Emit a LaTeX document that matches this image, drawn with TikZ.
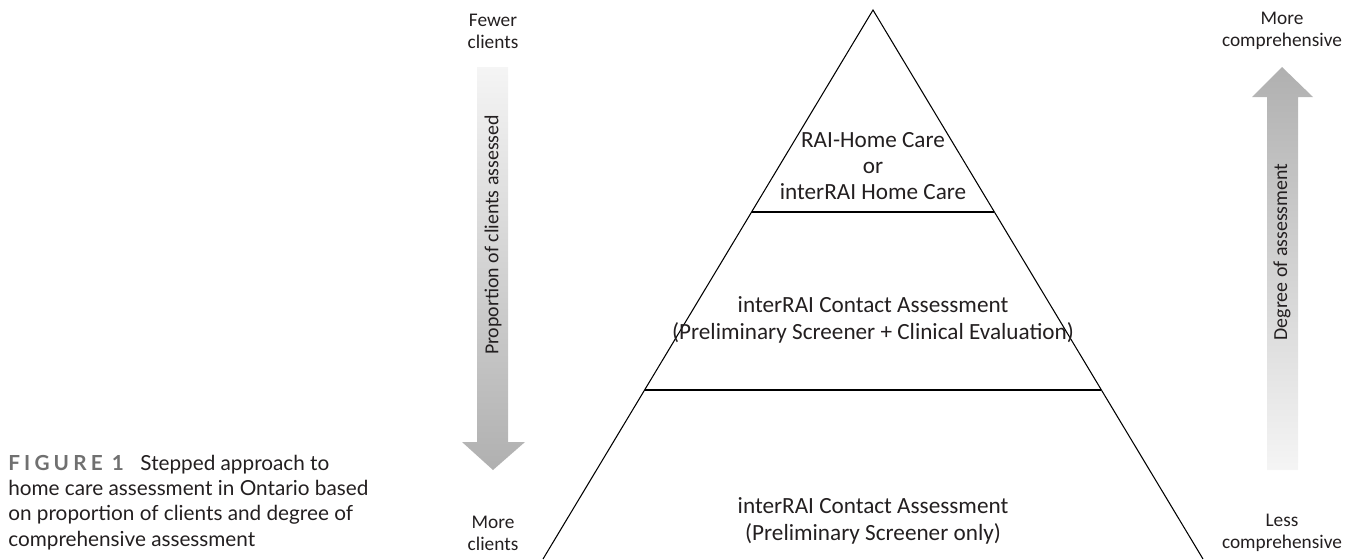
\documentclass[tikz,border=0pt]{standalone}
\usepackage{fontspec}
\setmainfont{Carlito}
\newfontfamily\capfont{Lato}
\usetikzlibrary{calc}
\definecolor{capgray}{HTML}{707070}
\definecolor{txtgray}{HTML}{231F20}
\tikzset{
    tier/.style={align=center,font=\fontsize{13.2}{15}\selectfont,text=txtgray},
    endlabel/.style={align=center,font=\fontsize{11}{12.6}\selectfont,text=txtgray},
    sidelabel/.style={rotate=90,font=\fontsize{11.3}{13}\selectfont,text=txtgray},
    divider/.style={line width=0.9pt},
}

\begin{document}
\begin{tikzpicture}[x=0.02cm,y=-0.02cm]
    \useasboundingbox (0,0) rectangle (1348,559);
    % pyramid
    \coordinate (apex) at (873,10);
    \coordinate (bl) at (543,559);
    \coordinate (br) at (1203,559);
    \draw[line width=0.6pt] (bl) -- (apex) -- (br);
    \draw[divider] ($(apex)!0.368!(bl)$) -- ($(apex)!0.368!(br)$);
    \draw[divider] ($(apex)!0.692!(bl)$) -- ($(apex)!0.692!(br)$);
    \node[tier] (top) at (873,166) {RAI-Home Care\\or\\interRAI Home Care};
    \node[tier] (mid) at (873,320) {interRAI Contact Assessment\\(Preliminary Screener + Clinical Evaluation)};
    \node[tier] (low) at (873,521) {interRAI Contact Assessment\\(Preliminary Screener only)};
    % arrows
    \shade[top color=gray!8,bottom color=gray!62]
        (477,67) -- (508,67) -- (508,442) -- (525,442) -- (493,470)
        -- (462,442) -- (477,442) -- cycle;
    \shade[top color=gray!62,bottom color=gray!8]
        (1267,470) -- (1298,470) -- (1298,97) -- (1313,97) -- (1282,67)
        -- (1252,97) -- (1267,97) -- cycle;
    \node[sidelabel] (prop) at (493,235) {Proportion of clients assessed};
    \node[sidelabel] (deg) at (1282,252) {Degree of assessment};
    \foreach \x/\y/\t in {493/31/Fewer\\clients,493/533/More\\clients,
        1282/31/More\\comprehensive,1282/533/Less\\comprehensive}{%
        \node[endlabel] at (\x,\y) {\t};
    }
    % caption
    \node[anchor=north west,align=left,inner sep=0pt,
        font=\capfont\fontsize{11.8}{14.3}\selectfont,text=txtgray] (cap) at (8,455)
        {{\color{capgray}\bfseries\addfontfeature{LetterSpace=20}FIGURE 1}\hspace{0.8em}Stepped approach to\\
        home care assessment in Ontario based\\
        on proportion of clients and degree of\\
        comprehensive assessment};
\end{tikzpicture}
\end{document}
